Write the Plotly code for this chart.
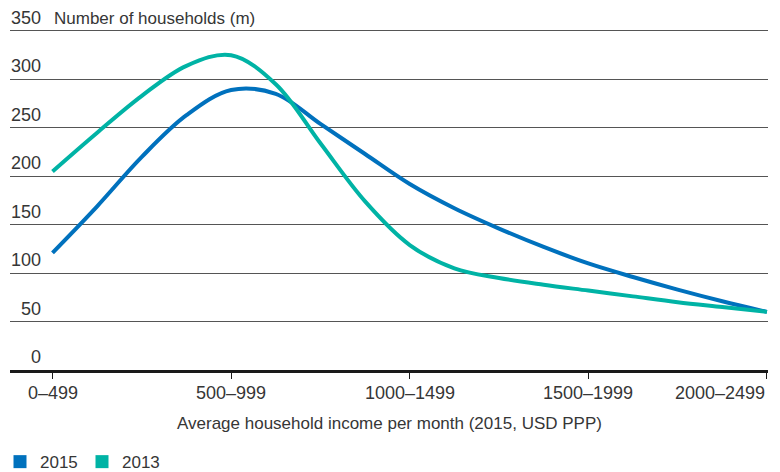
import plotly.graph_objects as go

income_bands = ["0\u2013499", "500\u2013999", "1000\u20131499", "1500\u20131999", "2000\u20132499"]
band_pos = [0, 0.25, 0.5, 0.75, 1, 1.25, 1.5, 1.75, 2, 2.25, 2.5, 2.75, 3, 3.25, 3.5, 3.75, 4]
households_2015 = [121, 169, 220, 263, 289, 285, 254, 223, 192, 167, 146, 127, 110, 96, 83, 71, 60]
households_2013 = [205, 245, 283, 314, 325, 295, 234, 174, 129, 105, 95, 88, 82, 76, 70, 65, 60]
y_ticks = [0, 50, 100, 150, 200, 250, 300, 350]

blue = "#0071bd"
teal = "#00b3a5"
txt = "#363636"
font_family = "Liberation Sans, Arial, sans-serif"

fig = go.Figure()
for name, vals, col in [("2015", households_2015, blue), ("2013", households_2013, teal)]:
    fig.add_trace(go.Scatter(x=band_pos, y=vals, mode="lines", name=name,
                             line=dict(color=col, width=4, shape="spline", smoothing=1.0),
                             showlegend=False, hoverinfo="skip"))
    # square legend markers
    fig.add_trace(go.Scatter(x=[None], y=[None], mode="markers", name=name,
                             marker=dict(symbol="square", size=13, color=col)))

annots = []
# y tick labels sit above their gridlines, right-aligned
for v in y_ticks:
    annots.append(dict(text=str(v), xref="paper", yref="y", x=0.0435, y=v,
                       xanchor="right", yanchor="bottom", yshift=1, showarrow=False,
                       font=dict(size=18, color=txt)))
annots.append(dict(text="Number of households (m)", xref="paper", yref="y",
                   x=0.0554, y=350, xanchor="left", yanchor="bottom", yshift=1,
                   showarrow=False, font=dict(size=17, color=txt)))
# x tick labels, last one right-aligned to its tick
for i, lab in enumerate(income_bands):
    annots.append(dict(text=lab, xref="x", yref="paper", x=i, y=0,
                       xanchor="right" if i == len(income_bands) - 1 else "center",
                       yanchor="top", yshift=-11, showarrow=False,
                       font=dict(size=18, color=txt)))
annots.append(dict(text="Average household income per month (2015, USD PPP)",
                   xref="paper", yref="paper", x=0.5, y=0, xanchor="center",
                   yanchor="middle", yshift=-53, showarrow=False,
                   font=dict(size=17, color=txt)))

fig.update_layout(
    width=780, height=472,
    margin=dict(l=10, r=12, t=29, b=102, autoexpand=False),
    paper_bgcolor="white", plot_bgcolor="white",
    font=dict(family=font_family, size=17, color=txt),
    xaxis=dict(
        range=[-0.238, 4.006],
        tickmode="array", tickvals=list(range(len(income_bands))),
        showticklabels=False, showgrid=False, zeroline=False,
        showline=True, linecolor="#1a1a1a", linewidth=2.5,
        ticks="outside", ticklen=6, tickcolor="#1a1a1a", tickwidth=1,
    ),
    yaxis=dict(
        range=[0, 352],
        tickmode="array", tickvals=y_ticks, showticklabels=False,
        showgrid=True, gridcolor="#555555", gridwidth=1,
        zeroline=False, showline=False, ticks="",
    ),
    legend=dict(orientation="h", xref="container", x=-0.021, xanchor="left",
                yref="container", y=0.021, yanchor="middle",
                font=dict(size=17, color=txt), entrywidth=37, entrywidthmode="pixels"),
    annotations=annots,
)

# drop the page's default body margin so the figure sits at the window's corner
fig.write_html("out.html", config={"displayModeBar": False},
               post_script="document.body.style.margin='0px';")
